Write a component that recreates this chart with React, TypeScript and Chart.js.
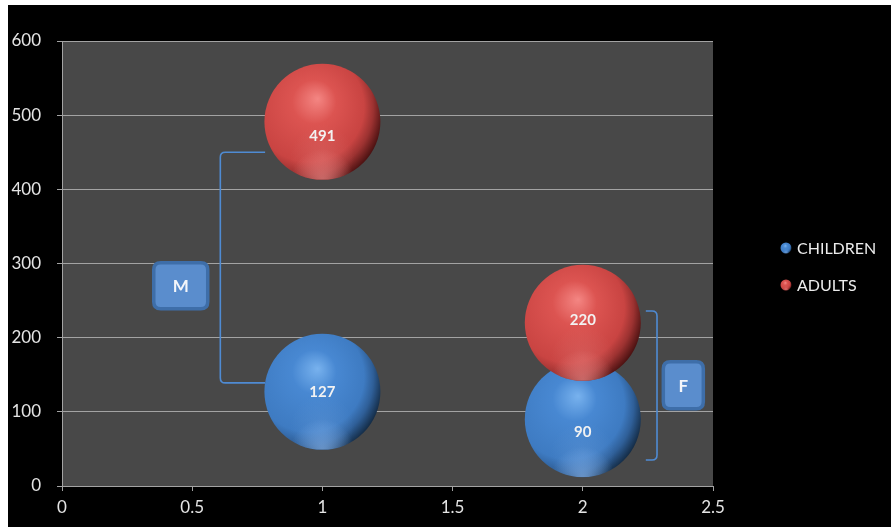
import React, { useEffect, useRef } from "react";
import { Chart, registerables } from "chart.js";

Chart.register(...registerables);

// ---- data ----
const seriesNames = ["CHILDREN", "ADULTS"];
const xValues = [1, 2];
const childrenValues = [127, 90];
const adultsValues = [491, 220];

// ---- styling ----
const FONT = "Lato, 'Open Sans', 'DejaVu Sans', sans-serif";
const TICK_COLOR = "#e4e4e4";
const GRID_COLOR = "#a3a3a3";
const PLOT_BG = "#484848";
const BUBBLE_RADIUS = 58;
const BRACKET_COLOR = "#4f8bd3";
// vertical nudge of each value label, in pixels
const childrenLabelDy = [0, 13];
const adultsLabelDy = [14, -3];

type Palette = {
  light: string;
  mid: string;
  body: string;
  shade: string;
  dark: string;
  glow: [number, number, number];
  rim: [number, number, number];
};
const palettes: Palette[] = [
  {
    light: "#78b2ee",
    mid: "#4888d2",
    body: "#3e7bc2",
    shade: "#2f5f98",
    dark: "#142c46",
    glow: [95, 150, 215],
    rim: [140, 185, 240],
  },
  {
    light: "#f48683",
    mid: "#dc5451",
    body: "#c94442",
    shade: "#9c3231",
    dark: "#4a1111",
    glow: [220, 110, 108],
    rim: [240, 140, 138],
  },
];

const rgba = (c: [number, number, number], a: number) => `rgba(${c[0]},${c[1]},${c[2]},${a})`;

function drawSphere(ctx: CanvasRenderingContext2D, x: number, y: number, r: number, p: Palette) {
  ctx.save();
  ctx.beginPath();
  ctx.arc(x, y, r, 0, Math.PI * 2);
  ctx.closePath();
  const g = ctx.createRadialGradient(x - 0.08 * r, y - 0.4 * r, 0, x - 0.3 * r, y - 0.2 * r, 1.36 * r);
  g.addColorStop(0, p.light);
  g.addColorStop(0.28, p.mid);
  g.addColorStop(0.7, p.body);
  g.addColorStop(0.84, p.shade);
  g.addColorStop(1, p.dark);
  ctx.fillStyle = g;
  ctx.fill();
  ctx.clip();
  // soft glow in the lower half
  const m = ctx.createRadialGradient(x, y + 0.6 * r, 0, x, y + 0.6 * r, 0.55 * r);
  m.addColorStop(0, rgba(p.glow, 0.45));
  m.addColorStop(1, rgba(p.glow, 0));
  ctx.fillStyle = m;
  ctx.fillRect(x - r, y - r, 2 * r, 2 * r);
  // reflected light along the lower rim
  const b = ctx.createRadialGradient(x, y + 1.02 * r, 0, x, y + 1.02 * r, 0.55 * r);
  b.addColorStop(0, rgba(p.rim, 0.65));
  b.addColorStop(1, rgba(p.rim, 0));
  ctx.fillStyle = b;
  ctx.fillRect(x - r, y - r, 2 * r, 2 * r);
  ctx.restore();
}

function drawBracket(
  ctx: CanvasRenderingContext2D,
  xSpine: number,
  xEnd: number,
  yTop: number,
  yBot: number,
  rad: number
) {
  const dir = xEnd > xSpine ? 1 : -1;
  ctx.beginPath();
  ctx.moveTo(xEnd, yTop);
  ctx.lineTo(xSpine + dir * rad, yTop);
  ctx.quadraticCurveTo(xSpine, yTop, xSpine, yTop + rad);
  ctx.lineTo(xSpine, yBot - rad);
  ctx.quadraticCurveTo(xSpine, yBot, xSpine + dir * rad, yBot);
  ctx.lineTo(xEnd, yBot);
  ctx.stroke();
}

function roundRect(ctx: CanvasRenderingContext2D, x: number, y: number, w: number, h: number, r: number) {
  ctx.beginPath();
  ctx.moveTo(x + r, y);
  ctx.lineTo(x + w - r, y);
  ctx.quadraticCurveTo(x + w, y, x + w, y + r);
  ctx.lineTo(x + w, y + h - r);
  ctx.quadraticCurveTo(x + w, y + h, x + w - r, y + h);
  ctx.lineTo(x + r, y + h);
  ctx.quadraticCurveTo(x, y + h, x, y + h - r);
  ctx.lineTo(x, y + r);
  ctx.quadraticCurveTo(x, y, x + r, y);
  ctx.closePath();
}

function drawTagBox(ctx: CanvasRenderingContext2D, cx: number, cy: number, w: number, h: number, text: string) {
  ctx.save();
  roundRect(ctx, cx - w / 2, cy - h / 2, w, h, 7);
  ctx.fillStyle = "#5a8dcd";
  ctx.fill();
  ctx.lineWidth = 3.5;
  ctx.strokeStyle = "#3e6ea9";
  ctx.stroke();
  ctx.fillStyle = "#f4f6fa";
  ctx.font = `bold 17px ${FONT}`;
  ctx.textAlign = "center";
  ctx.textBaseline = "middle";
  ctx.fillText(text, cx, cy + 1);
  ctx.restore();
}

// bracket groupings, in data coordinates
const groupM = { spineX: 0.608, endX: 0.78, top: 450, bottom: 139, boxX: 0.456, boxY: 270, label: "M" };
const groupF = { spineX: 2.285, endX: 2.242, top: 236, bottom: 35, boxX: 2.386, boxY: 136, label: "F" };

const plotBackground = {
  id: "plotBackground",
  beforeDraw(chart: any) {
    const { ctx, chartArea } = chart;
    ctx.save();
    ctx.fillStyle = PLOT_BG;
    ctx.fillRect(chartArea.left, chartArea.top, chartArea.right - chartArea.left, chartArea.bottom - chartArea.top);
    ctx.restore();
  },
};

const sphereBubbles = {
  id: "sphereBubbles",
  afterDatasetDraw(chart: any, args: any) {
    const { ctx } = chart;
    const meta = args.meta;
    const pal = palettes[args.index];
    meta.data.forEach((el: any) => {
      drawSphere(ctx, el.x, el.y, el.options.radius, pal);
    });
  },
};

const valueLabels = {
  id: "valueLabels",
  afterDatasetsDraw(chart: any) {
    const { ctx } = chart;
    const values = [childrenValues, adultsValues];
    const dys = [childrenLabelDy, adultsLabelDy];
    ctx.save();
    ctx.font = `bold 15px ${FONT}`;
    ctx.fillStyle = "#f2f2f2";
    ctx.textAlign = "center";
    ctx.textBaseline = "middle";
    chart.data.datasets.forEach((_: any, di: number) => {
      const meta = chart.getDatasetMeta(di);
      meta.data.forEach((el: any, i: number) => {
        ctx.fillText(String(values[di][i]), el.x, el.y + dys[di][i]);
      });
    });
    ctx.restore();
  },
};

const groupBrackets = {
  id: "groupBrackets",
  afterDraw(chart: any) {
    const { ctx, scales } = chart;
    const sx = scales.x;
    const sy = scales.y;
    ctx.save();
    ctx.strokeStyle = BRACKET_COLOR;
    ctx.lineWidth = 1.6;
    [groupM, groupF].forEach((g) => {
      drawBracket(
        ctx,
        sx.getPixelForValue(g.spineX),
        sx.getPixelForValue(g.endX),
        sy.getPixelForValue(g.top),
        sy.getPixelForValue(g.bottom),
        5
      );
    });
    ctx.restore();
    drawTagBox(ctx, sx.getPixelForValue(groupM.boxX), sy.getPixelForValue(groupM.boxY), 54, 46, groupM.label);
    drawTagBox(ctx, sx.getPixelForValue(groupF.boxX), sy.getPixelForValue(groupF.boxY), 40, 47, groupF.label);
  },
};

const sideLegend = {
  id: "sideLegend",
  afterDraw(chart: any) {
    const { ctx, chartArea } = chart;
    const x0 = chartArea.right + 73;
    const rows = [243, 280];
    ctx.save();
    ctx.font = `16px ${FONT}`;
    ctx.textAlign = "left";
    ctx.textBaseline = "middle";
    seriesNames.forEach((name, i) => {
      drawSphere(ctx, x0, rows[i], 5.5, palettes[i]);
      ctx.fillStyle = "#ececec";
      ctx.fillText(name, x0 + 11, rows[i] + 1);
    });
    ctx.restore();
  },
};

export default function App() {
  const canvasRef = useRef<HTMLCanvasElement | null>(null);

  useEffect(() => {
    if (!canvasRef.current) return;
    const tickFont = { family: FONT, size: 17 };
    const chart = new Chart(canvasRef.current, {
      type: "bubble",
      data: {
        datasets: [
          {
            label: seriesNames[0],
            data: xValues.map((x, i) => ({ x, y: childrenValues[i] })) as any,
            radius: BUBBLE_RADIUS,
            backgroundColor: "rgba(0,0,0,0)",
            borderWidth: 0,
            order: 2,
          },
          {
            label: seriesNames[1],
            data: xValues.map((x, i) => ({ x, y: adultsValues[i] })) as any,
            radius: BUBBLE_RADIUS,
            backgroundColor: "rgba(0,0,0,0)",
            borderWidth: 0,
            order: 1,
          },
        ],
      },
      options: {
        responsive: false,
        animation: false,
        devicePixelRatio: 1,
        events: [],
        layout: { autoPadding: false, padding: { left: 0, right: 178, top: 36, bottom: 0 } },
        plugins: { legend: { display: false }, tooltip: { enabled: false } },
        scales: {
          x: {
            type: "linear",
            min: 0,
            max: 2.5,
            ticks: {
              stepSize: 0.5,
              color: TICK_COLOR,
              font: tickFont,
              padding: 6,
              callback: (v: any) => String(Number(v)),
            },
            grid: { drawOnChartArea: false, drawTicks: true, tickLength: 5, color: GRID_COLOR },
            border: { color: GRID_COLOR },
            afterFit: (s: any) => {
              s.height = 41;
            },
          },
          y: {
            type: "linear",
            min: 0,
            max: 600,
            ticks: { stepSize: 100, color: TICK_COLOR, font: tickFont, padding: 16 },
            grid: { color: GRID_COLOR, tickLength: 5 },
            border: { color: GRID_COLOR },
            afterFit: (s: any) => {
              s.width = 54;
            },
          },
        },
      } as any,
      plugins: [plotBackground, sphereBubbles, valueLabels, groupBrackets, sideLegend],
    });
    return () => chart.destroy();
  }, []);

  return (
    <div
      style={{
        position: "absolute",
        left: 8,
        top: 5,
        width: 883,
        height: 522,
        background: "#000",
      }}
    >
      <canvas ref={canvasRef} width={883} height={522} style={{ display: "block" }} />
    </div>
  );
}
